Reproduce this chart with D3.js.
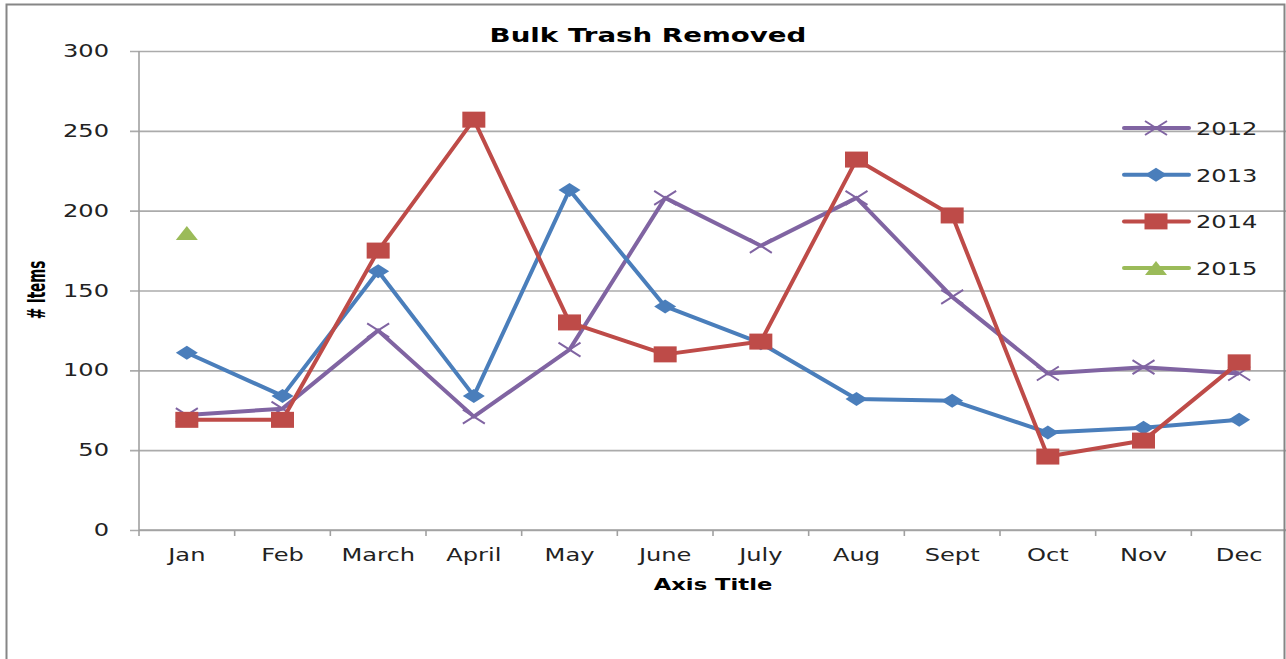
<!DOCTYPE html>
<html>
<head>
<meta charset="utf-8">
<script src="https://cdn.jsdelivr.net/npm/d3@7"></script>
<style>
  html, body { margin: 0; padding: 0; background: #fff; }
  svg { display: block; }
</style>
</head>
<body>
<svg id="chart" width="1286" height="659"></svg>
<script>
// DATA
const months = ['Jan', 'Feb', 'March', 'April', 'May', 'June', 'July', 'Aug', 'Sept', 'Oct', 'Nov', 'Dec'];
const v2012 = [72, 76, 125, 71, 113, 208, 178, 208, 146, 98, 102, 98];
const v2013 = [111, 84, 162, 84, 213, 140, 117, 82, 81, 61, 64, 69];
const v2014 = [69, 69, 175, 257, 130, 110, 118, 232, 197, 46, 56, 105];
const v2015 = [186];
const yTicks = [0, 50, 100, 150, 200, 250, 300];

const series = [
  { name: '2012', vals: v2012, color: '#8064A2', marker: 'x' },
  { name: '2013', vals: v2013, color: '#4A7EBB', marker: 'diamond' },
  { name: '2014', vals: v2014, color: '#BE4B48', marker: 'square' },
  { name: '2015', vals: v2015, color: '#9BBB59', marker: 'triangle' },
];

// the picture is stretched sideways, so text gets scaled the same way
const SX = 1.42;
const FONT = 'DejaVu Sans, Verdana, sans-serif';

const svg = d3.select('#chart');
const m = { top: 51, left: 139, bottom: 530, right: 1287 };

// SCALES
const x = d3.scaleBand().domain(months).range([m.left, m.right]).paddingInner(0).paddingOuter(0);
const cx = (d) => x(d) + x.bandwidth() / 2;
const y = d3.scaleLinear().domain([0, 300]).range([m.bottom, m.top]);

// GRIDLINES + Y TICKS
const yAx = svg.append('g')
  .attr('transform', `translate(${m.left},0)`)
  .call(d3.axisLeft(y).tickValues(yTicks).tickSize(-(m.right - m.left)).tickSizeOuter(0).tickFormat(''));
yAx.select('.domain').remove();
yAx.selectAll('.tick line')
  .attr('x1', -9)
  .attr('stroke', '#ababab')
  .attr('stroke-width', 1.6);

// y tick labels
svg.append('g').selectAll('text')
  .data(yTicks)
  .enter()
  .append('text')
  .attr('transform', (d) => `translate(109,${y(d) + 6}) scale(${SX},1)`)
  .attr('text-anchor', 'end')
  .attr('font-family', FONT)
  .attr('font-size', 17)
  .attr('fill', '#222')
  .text((d) => d);

// Y AXIS LINE
svg.append('line')
  .attr('x1', m.left).attr('x2', m.left)
  .attr('y1', m.top).attr('y2', m.bottom)
  .attr('stroke', '#a0a0a0').attr('stroke-width', 1.6);

// X AXIS (ticks between categories)
svg.append('line')
  .attr('x1', m.left).attr('x2', m.right)
  .attr('y1', m.bottom).attr('y2', m.bottom)
  .attr('stroke', '#a0a0a0').attr('stroke-width', 1.6);

const edges = months.map((d) => x(d)).concat([m.right]);
svg.append('g').selectAll('line')
  .data(edges)
  .enter()
  .append('line')
  .attr('x1', (d) => d).attr('x2', (d) => d)
  .attr('y1', m.bottom).attr('y2', m.bottom + 6)
  .attr('stroke', '#a0a0a0').attr('stroke-width', 1.6);

svg.append('g').selectAll('text')
  .data(months)
  .enter()
  .append('text')
  .attr('transform', (d) => `translate(${cx(d)},561) scale(${SX},1)`)
  .attr('text-anchor', 'middle')
  .attr('font-family', FONT)
  .attr('font-size', 17)
  .attr('fill', '#222')
  .text((d) => d);

// MARKERS
function marker(g, type, color) {
  if (type === 'square') {
    g.append('rect').attr('x', -11.5).attr('y', -8).attr('width', 23).attr('height', 16).attr('fill', color);
  } else if (type === 'diamond') {
    g.append('path').attr('d', 'M-11,0L0,-7L11,0L0,7Z').attr('fill', color);
  } else if (type === 'triangle') {
    g.append('path').attr('d', 'M-11,7L0,-7L11,7Z').attr('fill', color);
  } else {
    g.append('path').attr('d', 'M-11,-7L11,7M-11,7L11,-7').attr('stroke', color).attr('stroke-width', 2).attr('fill', 'none');
  }
}

// LINES
const line = d3.line()
  .x((d, i) => cx(months[i]))
  .y((d) => y(d));

series.forEach((s) => {
  const g = svg.append('g');
  if (s.vals.length > 1) {
    g.append('path')
      .datum(s.vals)
      .attr('fill', 'none')
      .attr('stroke', s.color)
      .attr('stroke-width', 4)
      .attr('stroke-linejoin', 'round')
      .attr('d', line);
  }
  s.vals.forEach((v, i) => {
    const mg = g.append('g').attr('transform', `translate(${cx(months[i])},${y(v)})`);
    marker(mg, s.marker, s.color);
  });
});

// LEGEND
const leg = svg.append('g');
series.forEach((s, i) => {
  const ly = 128 + i * 46.7;
  leg.append('line')
    .attr('x1', 1124).attr('x2', 1189)
    .attr('y1', ly).attr('y2', ly)
    .attr('stroke', s.color).attr('stroke-width', 4).attr('stroke-linecap', 'round');
  marker(leg.append('g').attr('transform', `translate(1156,${ly})`), s.marker, s.color);
  leg.append('text')
    .attr('transform', `translate(1196,${ly + 7}) scale(${SX},1)`)
    .attr('font-family', FONT)
    .attr('font-size', 17)
    .attr('fill', '#222')
    .text(s.name);
});

// TITLES
svg.append('text')
  .attr('transform', `translate(648,42) scale(${SX},1)`)
  .attr('text-anchor', 'middle')
  .attr('font-family', FONT)
  .attr('font-weight', 'bold')
  .attr('font-size', 19.5)
  .attr('fill', '#000')
  .text('Bulk Trash Removed');

svg.append('text')
  .attr('transform', `translate(713,590) scale(${SX},1)`)
  .attr('text-anchor', 'middle')
  .attr('font-family', FONT)
  .attr('font-weight', 'bold')
  .attr('font-size', 16)
  .attr('fill', '#000')
  .text('Axis Title');

svg.append('text')
  .attr('transform', `translate(45,290) rotate(-90) scale(1,1.9)`)
  .attr('text-anchor', 'middle')
  .attr('font-family', FONT)
  .attr('font-weight', 'bold')
  .attr('font-size', 13.5)
  .attr('fill', '#000')
  .text('# Items');

// OUTER BORDER (chart area frame)
svg.append('path')
  .attr('d', 'M6.5,659V4.5H1284.5V659')
  .attr('fill', 'none')
  .attr('stroke', '#868686')
  .attr('stroke-width', 2);
</script>
</body>
</html>
